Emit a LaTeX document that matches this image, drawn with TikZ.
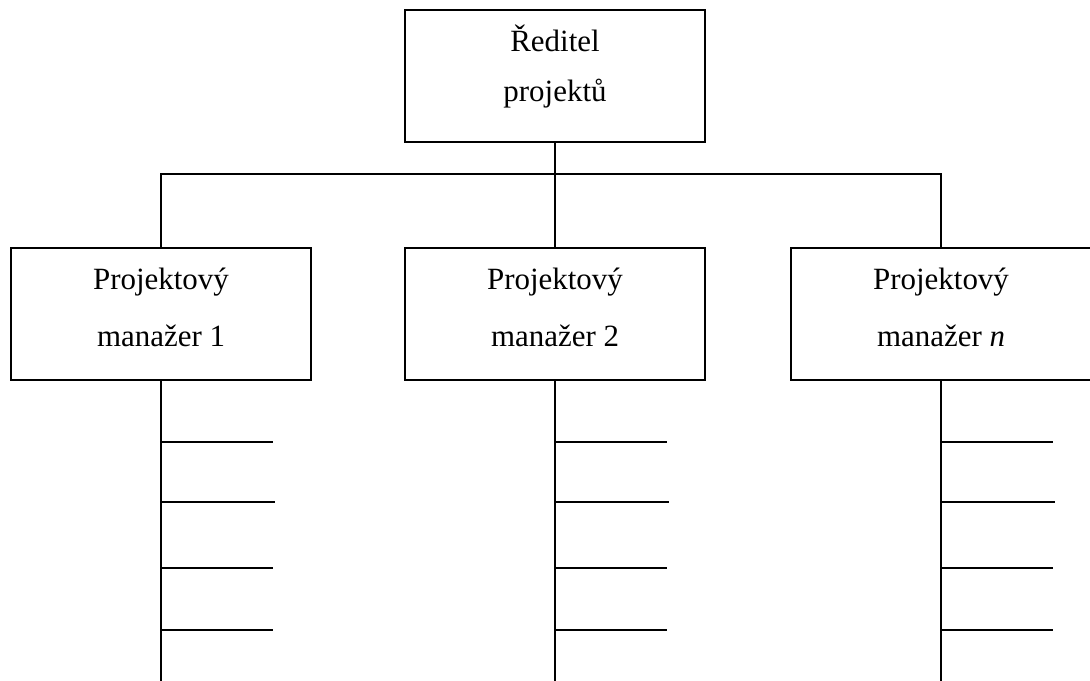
\documentclass[tikz,border=0pt]{standalone}
\usepackage{fontspec}
\setmainfont{Liberation Serif}
\begin{document}
\begin{tikzpicture}[x=0.025cm,y=-0.025cm,
  box/.style={draw, line width=0.9pt, minimum width=7.5cm, minimum height=3.3cm, inner sep=0pt},
  lbl/.style={anchor=base, font=\fontsize{22}{26}\selectfont, inner sep=0pt},
  conn/.style={line width=0.9pt}]
\useasboundingbox (0,0) rectangle (1090,681);
% boxes
\node[box] (dir) at (555,76) {};
\node[box] (pm1) at (161,314) {};
\node[box] (pm2) at (555,314) {};
\node[box] (pmn) at (941,314) {};
% labels
\node[lbl] (dirA) at (555,51.7) {Ředitel};
\node[lbl] (dirB) at (555,101.7) {projektů};
\node[lbl] (pm1A) at (161,289.3) {Projektový};
\node[lbl] (pm1B) at (161,346.5) {manažer 1};
\node[lbl] (pm2A) at (555,289.3) {Projektový};
\node[lbl] (pm2B) at (555,346.5) {manažer 2};
\node[lbl] (pmnA) at (941,289.3) {Projektový};
\node[lbl] (pmnB) at (941,346.5) {manažer \textit{n}};
% bus
\coordinate (b1) at (161,174);
\coordinate (bn) at (941,174);
\draw[conn] (pm1.north) -- (b1) -- (bn) -- (pmn.north);
\draw[conn] (dir.south) -- (pm2.north);
% lower lines
\coordinate (e1) at (161,690);
\coordinate (e2) at (555,690);
\coordinate (en) at (941,690);
\draw[conn] (pm1.south) -- (e1);
\draw[conn] (pm2.south) -- (e2);
\draw[conn] (pmn.south) -- (en);
% ticks
\foreach \cx in {161,555,941}{
  \foreach \ty/\len in {442/112, 502/114, 568/112, 630/112}{
    \draw[conn] (\cx,\ty) -- ++(\len,0);
  }
}
\end{tikzpicture}
\end{document}
